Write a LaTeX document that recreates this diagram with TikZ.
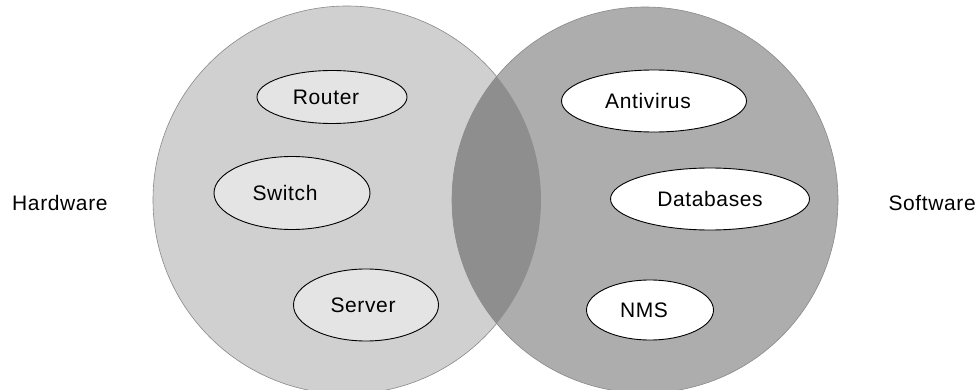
\documentclass[tikz,border=0pt]{standalone}
\usepackage{fontspec}
\setmainfont{Liberation Sans}[LetterSpace=3]
\usetikzlibrary{shapes.geometric}
\definecolor{leftfill}{HTML}{D0D0D0}
\definecolor{rightfill}{HTML}{ADADAD}
\definecolor{lensfill}{HTML}{8E8E8E}
\definecolor{lightel}{HTML}{E4E4E4}
\definecolor{rimgray}{HTML}{8A8A8A}
\begin{document}
\begin{tikzpicture}[x=1pt,y=-1pt,
  item/.style={ellipse,draw=black,line width=0.9pt,inner sep=0pt,font=\fontsize{21}{24}\selectfont},
  side/.style={font=\fontsize{21}{24}\selectfont,inner sep=0pt}]
\useasboundingbox (0,0) rectangle (979,390);
\fill[white] (0,0) rectangle (979,390);
% circles
\path[fill=leftfill,draw=rimgray,line width=0.6pt] (347,200) circle (194);
\path[fill=rightfill,draw=rimgray,line width=0.6pt] (645,200) circle (193);
\begin{scope}
\clip (347,200) circle (194);
\fill[lensfill] (645,200) circle (193);
\end{scope}
% hardware items
\node[item,fill=lightel,minimum width=150,minimum height=53] (router) at (332,97) {\hspace*{-12pt}Router};
\node[item,fill=lightel,minimum width=156,minimum height=73] (switch) at (292,193) {\hspace*{-14pt}Switch};
\node[item,fill=lightel,minimum width=145,minimum height=72] (server) at (366,305) {\hspace*{-6pt}Server};
% software items
\node[item,fill=white,minimum width=185,minimum height=62] (antivirus) at (654,101) {\hspace*{-12pt}Antivirus};
\node[item,fill=white,minimum width=199,minimum height=62] (databases) at (710,199) {Databases};
\node[item,fill=white,minimum width=127,minimum height=60] (nms) at (650,310) {\hspace*{-12pt}NMS};
% side labels
\node[side,anchor=west] (hw) at (12,203) {Hardware};
\node[side,anchor=east] (sw) at (976,203) {Software};
\end{tikzpicture}
\end{document}
